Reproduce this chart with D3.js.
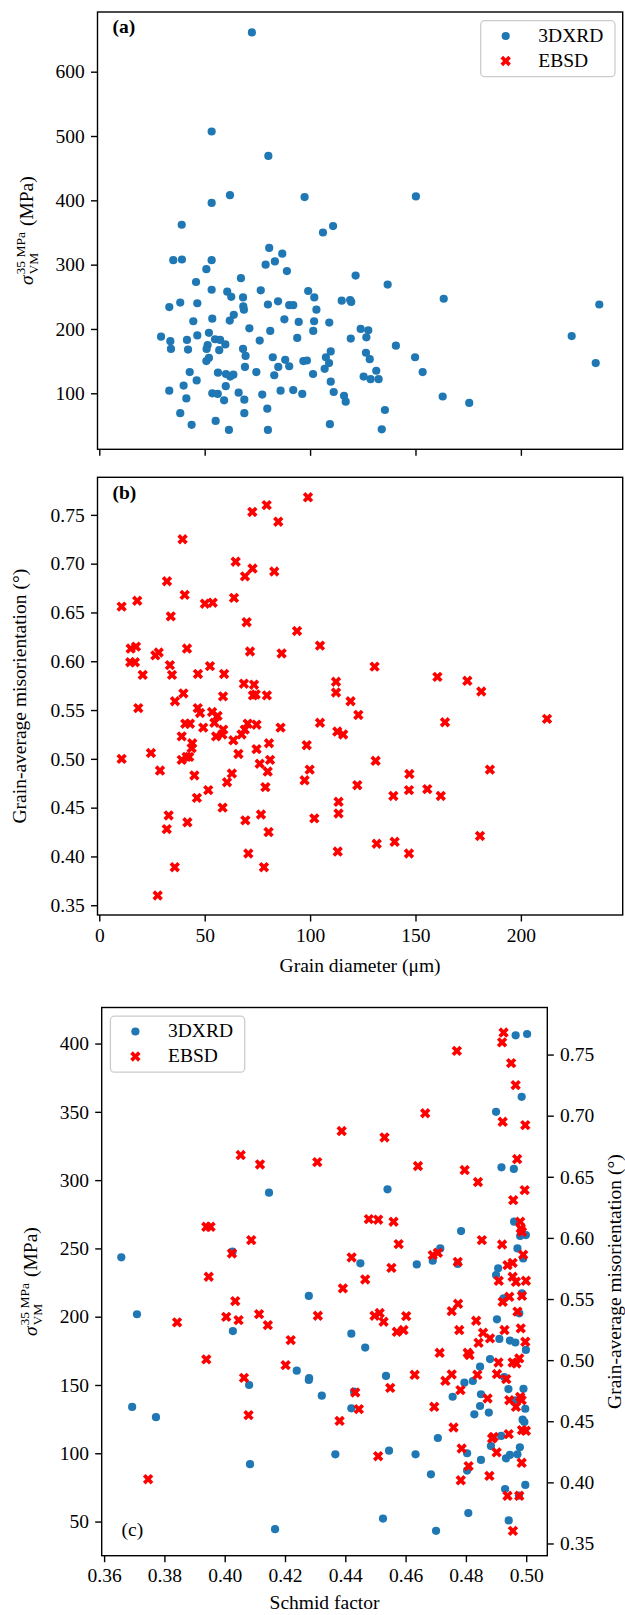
<!DOCTYPE html>
<html lang="en">
<head>
<meta charset="UTF-8">
<script src="https://cdn.jsdelivr.net/npm/d3@7"></script>
<title>stress and misorientation</title>
<style>
  body { margin: 0; background: #fff; }
  svg { font-family: "Liberation Serif", "DejaVu Serif", serif; }
  .tick text { font-family: "Liberation Serif", "DejaVu Serif", serif; font-size: 19.5px; fill: #000; }
  .tick line { stroke: #000; stroke-width: 1.4; }
  .lab { font-size: 19.5px; fill: #000; }
</style>
</head>
<body>
<svg width="625" height="1615"></svg>
<script>
// ---- panel (a): 3DXRD grains, diameter (um) vs von Mises stress (MPa)
var aDiam = [72.4, 53.3, 80.2, 62, 53.3, 97.4, 39.1, 110.9, 106.1, 150.2,
  35.1, 39.2, 53.3, 80.6, 86.8, 78.9, 83.3, 50.8, 89, 67.2,
  45.9, 121.6, 53.3, 60.7, 62.6, 68.2, 76.6, 99.1, 102, 33.2,
  38.4, 46.5, 68.3, 68.6, 80, 84.8, 90.1, 92, 103, 115,
  119, 119.5, 63.8, 61.9, 44.6, 53.6, 71.2, 87.8, 94.6, 101.9,
  101.5, 109.1, 124, 127.6, 29.3, 33.7, 34, 41.6, 42.1, 46.5,
  52, 51.4, 50.9, 54.9, 57.3, 59.8, 56.9, 68.2, 69.4, 76.1,
  81.1, 93.9, 119.3, 126.7, 140.7, 224.1, 52, 50.8, 69.1, 82.3,
  84.9, 88.2, 90.1, 96.8, 98.5, 107.5, 109.8, 109, 106.9, 126.5,
  128.3, 149.8, 235.5, 42.9, 46.2, 56.3, 60.1, 62.1, 63.6, 74.5,
  83, 101.4, 109.8, 125.4, 128.7, 131.4, 132.5, 153.4, 40, 33.2,
  41.3, 60, 53.6, 56.2, 59.2, 66.1, 68.8, 77.3, 86, 92,
  96.3, 111.2, 116.1, 116.9, 162.9, 175.5, 38.4, 68.8, 79.7, 135.5,
  43.8, 55.2, 61.5, 80, 109.4, 134, 163.4, 237.2, 136.8];
var aStress = [661, 507, 469, 408, 396, 405, 362, 360, 350, 406,
  307, 308, 307, 326, 317, 300, 305, 293, 290, 279,
  273, 283, 261, 258, 250, 249, 260, 259, 249, 234,
  241, 240, 235, 230, 238, 243, 237, 237, 230, 244,
  245, 242, 222, 213, 212, 216, 201, 215, 211, 212,
  197, 210, 200, 198, 188, 181, 169, 183, 168, 190,
  194, 175, 169, 184, 183, 176, 167, 169, 158, 182,
  197, 186, 185, 187, 174, 189, 155, 150, 141, 156,
  141, 152, 142, 150, 151, 156, 165, 147, 138, 163,
  153, 156, 147, 133, 120, 132, 130, 126, 129, 133,
  128, 130, 118, 126, 122, 135, 122, 133, 112, 104,
  92, 111, 100, 99, 89, 101, 90, 98, 104, 105,
  99, 102, 96, 87, 95, 85, 69, 69, 76, 74,
  51, 57, 43, 43, 52, 44, 247, 238, 269];

// ---- panel (b): EBSD grains, diameter (um) vs grain-average misorientation (deg)
var bDiam = [99, 79.4, 72.6, 84.9, 39.5, 64.7, 72.7, 69.1, 83, 32.1,
  40.5, 63.9, 18.0, 10.6, 50.1, 53.8, 33.9, 69.9, 93.8, 104.7,
  14.9, 17.4, 41.6, 26.6, 28.2, 71.5, 86.5, 14.7, 16.9, 33.5,
  34.5, 20.6, 46.8, 52.5, 59.2, 68.6, 73.4, 72.9, 74.2, 79.5,
  58.7, 39.9, 35.9, 18.5, 46.7, 47.8, 53.5, 56.1, 54.6, 58.4,
  55.4, 58.8, 40.8, 43, 49.3, 39.1, 44.1, 43.8, 42.7, 39.1,
  41.4, 63.6, 67.5, 69, 70.4, 74.6, 86, 66, 74.6, 80.5,
  76.1, 81, 79.9, 104.7, 112.9, 115.7, 112.3, 112.3, 119.2, 122.9,
  98.4, 99.8, 97.4, 10.6, 24.5, 28.8, 45.1, 62.9, 60.6, 51.7,
  46.3, 58.5, 78.8, 102, 113.5, 113.5, 32.9, 32, 41.8, 69.3,
  76.7, 80.3, 113.1, 70.7, 78.1, 35.8, 27.7, 122.4, 130.6, 160.4,
  174.6, 181.2, 164, 212.4, 131.1, 147.1, 185.3, 139.5, 146.9, 155.6,
  162, 131.6, 140.1, 146.9, 180.6];
var bMisor = [.768, .760, .753, .743, .725, .702, .695, .687, .692, .682,
  .668, .665, .662, .656, .659, .660, .646, .640, .631, .616,
  .613, .615, .613, .606, .609, .610, .608, .599, .599, .596,
  .586, .586, .587, .595, .587, .577, .576, .565, .566, .565,
  .564, .567, .559, .552, .552, .547, .548, .544, .537, .525,
  .523, .530, .536, .536, .532, .523, .516, .511, .502, .499,
  .502, .519, .525, .530, .536, .535, .532, .505, .510, .516,
  .495, .499, .487, .537, .528, .525, .579, .568, .559, .545,
  .514, .489, .478, .500, .506, .488, .483, .485, .476, .468,
  .460, .450, .471, .439, .456, .444, .442, .428, .435, .437,
  .443, .425, .405, .403, .389, .389, .360, .473, .5945, .584,
  .580, .569, .5375, .541, .498, .4845, .489, .462, .468, .469,
  .462, .413, .415, .403, .421];

// ---- panel (c): Schmid factor vs stress (3DXRD) and vs misorientation (EBSD)
var cSchmidX = [0.3657, 0.3709, 0.3693, 0.3772, 0.4026, 0.4147, 0.4027, 0.4081, 0.4084, 0.4167,
  0.4239, 0.4279, 0.4279, 0.4918, 0.4959, 0.4540, 0.4960, 0.4980, 0.4999, 0.4784,
  0.4715, 0.4690, 0.4971, 0.4990, 0.4637, 0.4450, 0.4773, 0.4907, 0.4900, 0.4986,
  0.4925, 0.4977, 0.4903, 0.4420, 0.4466, 0.4911, 0.4946, 0.4964, 0.4999, 0.4280,
  0.4322, 0.4535, 0.4420, 0.4429, 0.4367, 0.4545, 0.4633, 0.4525, 0.4701, 0.4684,
  0.4707, 0.4756, 0.4795, 0.4823, 0.4847, 0.4880, 0.4850, 0.4847, 0.4828, 0.4876,
  0.4927, 0.4941, 0.4966, 0.4991, 0.4997, 0.4988, 0.4994, 0.4917, 0.4883, 0.4933,
  0.4946, 0.4971, 0.4979, 0.4804, 0.4850, 0.4804, 0.4997, 0.4930, 0.4808, 0.4942,
  0.4976, 0.4965, 0.5003, 0.4985, 0.4900];
var cStress = [243.5, 201.8, 133.9, 126.4, 247.6, 290.8, 189.5, 150, 92, 44.4,
  160.5, 215.2, 153.7, 309.4, 308.2, 293.3, 269.6, 259.1, 259.8, 262.7,
  250, 241, 250, 242.7, 238.3, 239.1, 238.6, 235.4, 230.5, 217.1,
  213.4, 202.5, 198.1, 187.6, 177.4, 183.7, 182.5, 181.1, 175.7, 155,
  142.2, 156.6, 132.9, 145.1, 99.2, 101.9, 99.2, 52.2, 43.2, 84.6,
  111.2, 141.4, 151.7, 152.9, 163.4, 169, 143.2, 134.6, 128.5, 129.8,
  155.8, 147, 138.7, 147.2, 132.6, 124.6, 122.9, 112.7, 105.3, 96.3,
  98.8, 99.2, 104.4, 100, 95.1, 87.3, 76.8, 73.8, 56.2, 50.8,
  69, 406, 407, 361, 350];
var cSchmidE = [0.4053, 0.4117, 0.3939, 0.3953, 0.4088, 0.4024, 0.3947, 0.4035, 0.4005, 0.4046,
  0.4114, 0.4143, 0.3842, 0.4219, 0.4202, 0.3939, 0.4064, 0.4079, 0.3746, 0.4388,
  0.4530, 0.4307, 0.4641, 0.4796, 0.4840, 0.4922, 0.4997, 0.4970, 0.4995, 0.4957,
  0.4478, 0.4509, 0.4560, 0.4980, 0.4982, 0.4986, 0.4577, 0.4853, 0.4920, 0.4690,
  0.4707, 0.4773, 0.4990, 0.4421, 0.4553, 0.4938, 0.4955, 0.4466, 0.4392, 0.4909,
  0.4955, 0.4966, 0.4999, 0.4922, 0.4944, 0.4986, 0.4774, 0.4753, 0.4309, 0.4497,
  0.4514, 0.4527, 0.4602, 0.4971, 0.4834, 0.4571, 0.4593, 0.4778, 0.4857, 0.4928,
  0.4982, 0.4880, 0.4842, 0.4713, 0.4806, 0.4812, 0.4908, 0.4955, 0.4977, 0.4968,
  0.4997, 0.4630, 0.4732, 0.4753, 0.4838, 0.4903, 0.4934, 0.4549, 0.4433, 0.4782,
  0.4445, 0.4381, 0.4695, 0.4872, 0.4944, 0.4980, 0.4985, 0.4966, 0.4759, 0.4887,
  0.4892, 0.4942, 0.4986, 0.4999, 0.4786, 0.4902, 0.4509, 0.4809, 0.4985, 0.4878,
  0.4783, 0.4938, 0.4977, 0.4956, 0.4925, 0.4920, 0.4770, 0.4950, 0.4965, 0.4665];
var cMisor = [0.6678, 0.6601, 0.6091, 0.6091, 0.5982, 0.5873, 0.5682, 0.5483, 0.5354, 0.5327,
  0.5376, 0.5286, 0.5309, 0.5164, 0.4959, 0.5006, 0.4855, 0.455, 0.4026, 0.6874,
  0.6822, 0.6620, 0.6588, 0.6555, 0.6457, 0.695, 0.6923, 0.6645, 0.6391, 0.6309,
  0.6154, 0.6149, 0.6132, 0.6132, 0.6077, 0.6050, 0.5949, 0.5982, 0.5946, 0.5859,
  0.5878, 0.5804, 0.5862, 0.5840, 0.5755, 0.5777, 0.5796, 0.5660, 0.5587, 0.5649,
  0.5682, 0.5641, 0.5649, 0.5477, 0.5518, 0.5526, 0.5461, 0.5401, 0.5363, 0.5363,
  0.5385, 0.5314, 0.5360, 0.5397, 0.5322, 0.5232, 0.5246, 0.5246, 0.5224, 0.5246,
  0.5260, 0.5178, 0.5142, 0.5060, 0.5060, 0.5041, 0.4981, 0.4981, 0.5014, 0.4973,
  0.5150, 0.4880, 0.4831, 0.4883, 0.4880, 0.4886, 0.4845, 0.4773, 0.4735, 0.4755,
  0.4599, 0.4503, 0.4618, 0.4686, 0.4672, 0.4699, 0.4672, 0.4618, 0.4449, 0.4359,
  0.4372, 0.4395, 0.4427, 0.4422, 0.4277, 0.4245, 0.4214, 0.4133, 0.4160, 0.4053,
  0.4017, 0.3890, 0.3890, 0.3603, 0.768, 0.760, 0.753, 0.743, 0.725, 0.702];

// tick values
var diamTicks = [0, 50, 100, 150, 200];
var stressTicksA = [100, 200, 300, 400, 500, 600];
var misTicks = [0.35, 0.40, 0.45, 0.50, 0.55, 0.60, 0.65, 0.70, 0.75];
var schmidTicks = [0.36, 0.38, 0.40, 0.42, 0.44, 0.46, 0.48, 0.50];
var stressTicksC = [50, 100, 150, 200, 250, 300, 350, 400];

var BLUE = "#1f77b4", RED = "#ff0000";

var svg = d3.select("svg");
svg.append("rect").attr("width", 625).attr("height", 1615).attr("fill", "#fff");

// axes frames in pixels
var boxA = {l: 97.5, r: 622.7, t: 12, b: 449.3};
var boxB = {l: 97.5, r: 622.7, t: 477.3, b: 915};
var boxC = {l: 101.7, r: 547.3, t: 1007.5, b: 1555.7};

var xDiam = d3.scaleLinear().domain([-0.85, 248.3]).range([boxA.l, boxA.r]);
var yStressA = d3.scaleLinear().domain([12.9, 692.8]).range([boxA.b, boxA.t]);
var yMisB = d3.scaleLinear().domain([0.340, 0.7885]).range([boxB.b, boxB.t]);
var xSchmid = d3.scaleLinear().domain([0.3592, 0.507]).range([boxC.l, boxC.r]);
var yStressC = d3.scaleLinear().domain([25.0, 426.4]).range([boxC.b, boxC.t]);
var yMisC = d3.scaleLinear().domain([0.340, 0.7885]).range([boxC.b, boxC.t]);

var f2 = d3.format(".2f");

// matplotlib style filled "X" marker
function xMarker(size) {
    var k = size / 4;
    var pts = [[-1, -2], [0, -1], [1, -2], [2, -1], [1, 0], [2, 1],
               [1, 2], [0, 1], [-1, 2], [-2, 1], [-1, 0], [-2, -1]];
    return "M" + pts.map(function(p) { return (p[0] * k) + "," + (p[1] * k); }).join("L") + "Z";
}
var XPATH = xMarker(10.4);

function dots(xs, ys, xs_, ys_) {
    svg.append("g").selectAll("circle")
       .data(xs).join("circle")
       .attr("cx", function(d) { return xs_(d); })
       .attr("cy", function(d, i) { return ys_(ys[i]); })
       .attr("r", 4.1)
       .attr("fill", BLUE);
}

function crosses(xs, ys, xs_, ys_) {
    svg.append("g").selectAll("path")
       .data(xs).join("path")
       .attr("d", XPATH)
       .attr("transform", function(d, i) {
           return "translate(" + xs_(d) + "," + ys_(ys[i]) + ")";
       })
       .attr("fill", RED);
}

function axis(gen, x, y) {
    var g = svg.append("g")
       .attr("transform", "translate(" + x + "," + y + ")")
       .call(gen.tickSize(6.5).tickPadding(6.3).tickSizeOuter(0));
    g.select(".domain").remove();
    return g;
}

function frame(b) {
    svg.append("rect")
       .attr("x", b.l).attr("y", b.t)
       .attr("width", b.r - b.l).attr("height", b.b - b.t)
       .attr("fill", "none").attr("stroke", "#000").attr("stroke-width", 1.4);
}

function legend(x, y) {
    var g = svg.append("g").attr("transform", "translate(" + x + "," + y + ")");
    g.append("rect").attr("width", 134.3).attr("height", 56).attr("rx", 4)
     .attr("fill", "#fff").attr("fill-opacity", 0.8)
     .attr("stroke", "#cccccc").attr("stroke-width", 1.3);
    g.append("circle").attr("cx", 25).attr("cy", 15.3).attr("r", 4.1).attr("fill", BLUE);
    g.append("path").attr("d", XPATH).attr("transform", "translate(25,40.3)").attr("fill", RED);
    g.append("text").attr("class", "lab").attr("x", 57.6).attr("y", 21).text("3DXRD");
    g.append("text").attr("class", "lab").attr("x", 57.6).attr("y", 46).text("EBSD");
}

// sigma_VM^{35 MPa} (MPa), rotated
function sigmaLabel(x, y) {
    var g = svg.append("g").attr("transform", "translate(" + x + "," + y + ") rotate(-90)");
    var inner = g.append("g");
    var s = inner.append("text").attr("class", "lab").attr("x", 0).attr("y", 0)
                 .style("font-style", "italic").text("σ");
    var w0 = s.node().getComputedTextLength() + 1;
    var sup = inner.append("text").attr("x", w0).attr("y", -8.5)
                   .style("font-size", "13.5px").text("35 MPa");
    var sub = inner.append("text").attr("x", w0).attr("y", 5)
                   .style("font-size", "13.5px").text("VM");
    var w1 = Math.max(sup.node().getComputedTextLength(), sub.node().getComputedTextLength());
    var u = inner.append("text").attr("class", "lab").attr("x", w0 + w1 + 6).attr("y", 0).text("(MPa)");
    var total = w0 + w1 + 6 + u.node().getComputedTextLength();
    inner.attr("transform", "translate(" + (-total / 2) + ",0)");
}

function rotLabel(x, y, txt) {
    svg.append("text").attr("class", "lab")
       .attr("transform", "translate(" + x + "," + y + ") rotate(-90)")
       .attr("text-anchor", "middle").text(txt);
}

// ---------- panel (a)
dots(aDiam, aStress, xDiam, yStressA);
frame(boxA);
axis(d3.axisBottom(xDiam).tickValues(diamTicks).tickFormat(""), 0, boxA.b);
axis(d3.axisLeft(yStressA).tickValues(stressTicksA).tickFormat(d3.format("d")), boxA.l, 0);
legend(480.7, 20.7);
svg.append("text").attr("class", "lab").attr("x", 112.5).attr("y", 33)
   .style("font-weight", "bold").text("(a)");
sigmaLabel(33, (boxA.t + boxA.b) / 2);

// ---------- panel (b)
crosses(bDiam, bMisor, xDiam, yMisB);
frame(boxB);
axis(d3.axisBottom(xDiam).tickValues(diamTicks).tickFormat(d3.format("d")), 0, boxB.b);
axis(d3.axisLeft(yMisB).tickValues(misTicks).tickFormat(f2), boxB.l, 0);
svg.append("text").attr("class", "lab").attr("x", 112.5).attr("y", 498.5)
   .style("font-weight", "bold").text("(b)");
rotLabel(26, (boxB.t + boxB.b) / 2, "Grain-average misorientation (°)");
svg.append("text").attr("class", "lab").attr("x", (boxB.l + boxB.r) / 2).attr("y", 972)
   .attr("text-anchor", "middle").text("Grain diameter (μm)");

// ---------- panel (c), twin y axes
dots(cSchmidX, cStress, xSchmid, yStressC);
crosses(cSchmidE, cMisor, xSchmid, yMisC);
frame(boxC);
axis(d3.axisBottom(xSchmid).tickValues(schmidTicks).tickFormat(f2), 0, boxC.b);
axis(d3.axisLeft(yStressC).tickValues(stressTicksC).tickFormat(d3.format("d")), boxC.l, 0);
axis(d3.axisRight(yMisC).tickValues(misTicks).tickFormat(f2), boxC.r, 0);
legend(110.4, 1016.2);
svg.append("text").attr("class", "lab").attr("x", 121.5).attr("y", 1536).text("(c)");
sigmaLabel(37, (boxC.t + boxC.b) / 2);
rotLabel(621, (boxC.t + boxC.b) / 2, "Grain-average misorientation (°)");
svg.append("text").attr("class", "lab").attr("x", (boxC.l + boxC.r) / 2).attr("y", 1609)
   .attr("text-anchor", "middle").text("Schmid factor");
</script>
</body>
</html>
